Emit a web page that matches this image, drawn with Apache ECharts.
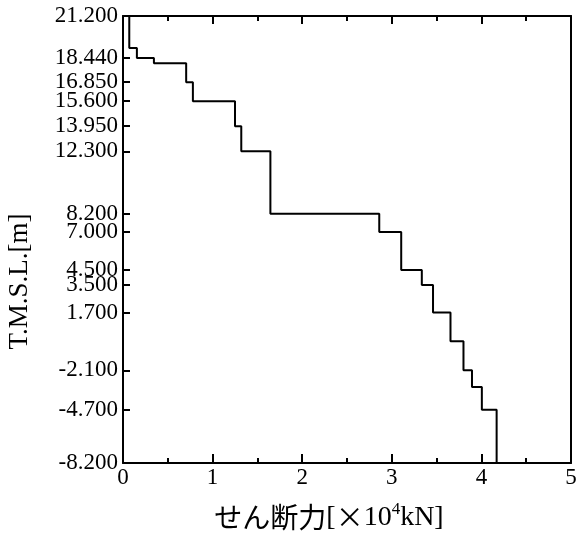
<!DOCTYPE html>
<html>
<head>
<meta charset="utf-8">
<style>
  html, body { margin: 0; padding: 0; background: #fff; }
  #chart { width: 576px; height: 536px; }
</style>
<script src="https://cdn.jsdelivr.net/npm/echarts@6/dist/echarts.min.js"></script>
</head>
<body>
<div id="chart"></div>
<script>
// Elevation boundaries of each section, top to bottom [m]
var levels = [21.2, 19.1, 18.44, 18.1, 16.85, 15.6, 13.95, 12.3, 8.2, 7.0, 4.5, 3.5, 1.7, -0.2, -2.1, -3.2, -4.7, -8.2];
// Shear force acting over each section [x10^4 kN]
var shear = [0.07, 0.155, 0.345, 0.705, 0.78, 1.25, 1.32, 1.645, 2.86, 3.105, 3.335, 3.46, 3.655, 3.80, 3.895, 4.005, 4.17];
// Labelled elevations on the vertical axis
var elevTicks = [21.2, 18.44, 16.85, 15.6, 13.95, 12.3, 8.2, 7.0, 4.5, 3.5, 1.7, -2.1, -4.7, -8.2];

// Step outline: each section is a vertical run at its shear value
var pts = [];
for (var i = 0; i < shear.length; i++) {
  pts.push([shear[i], levels[i]]);
  pts.push([shear[i], levels[i + 1]]);
}

var serif = '"Liberation Serif", "Times New Roman", serif';
var cjk = '"Noto Sans CJK JP", "Liberation Serif", serif';
var lineStyle = { color: '#000', width: 2 };

var chart = echarts.init(document.getElementById('chart'), null, { renderer: 'canvas' });
chart.setOption({
  animation: false,
  backgroundColor: '#fff',
  grid: { left: 123, right: 5, top: 16, bottom: 73, containLabel: false, outerBoundsMode: 'none' },
  xAxis: [{
    type: 'value', min: 0, max: 5, interval: 1, position: 'bottom',
    axisLine: { show: true, onZero: false, lineStyle: lineStyle },
    axisTick: { show: true, inside: true, length: 9, lineStyle: lineStyle },
    minorTick: { show: true, splitNumber: 2, length: 5, lineStyle: { color: '#000', width: 2 } },
    splitLine: { show: false },
    minorSplitLine: { show: false },
    axisLabel: { color: '#000', fontFamily: serif, fontSize: 23, margin: 3 },
    name: '{j|せん断力}{a|[}{x|×}{a|10}{s|4}{a|kN]}',
    nameLocation: 'middle', nameGap: 38,
    nameTextStyle: {
      padding: [0, 36, 0, 0],
      rich: {
        j: { fontFamily: cjk, fontSize: 28, color: '#000' },
        x: { fontFamily: cjk, fontSize: 28, color: '#000' },
        a: { fontFamily: serif, fontSize: 28, color: '#000' },
        s: { fontFamily: serif, fontSize: 17, color: '#000', verticalAlign: 'top', padding: [0, 0, 16, 0] }
      }
    }
  }, {
    type: 'value', min: 0, max: 5, interval: 1, position: 'top',
    axisLine: { show: true, onZero: false, lineStyle: lineStyle },
    axisTick: { show: true, inside: true, length: 8, lineStyle: lineStyle },
    minorTick: { show: true, splitNumber: 2, length: 5, lineStyle: { color: '#000', width: 2 } },
    splitLine: { show: false },
    axisLabel: { show: false }
  }],
  yAxis: [{
    type: 'value', min: -8.2, max: 21.2, position: 'left',
    axisLine: { show: true, onZero: false, lineStyle: lineStyle },
    axisTick: { show: true, inside: true, length: 7, customValues: elevTicks, lineStyle: lineStyle },
    splitLine: { show: false },
    axisLabel: {
      color: '#000', fontFamily: serif, fontSize: 23, margin: 5,
      customValues: elevTicks,
      formatter: function (v) { return v.toFixed(3); }
    },
    name: 'T.M.S.L.[m]',
    nameLocation: 'middle', nameRotate: 90, nameGap: 90,
    nameTextStyle: { color: '#000', fontFamily: serif, fontSize: 27, padding: [0, 84, 0, 0] }
  }, {
    type: 'value', min: -8.2, max: 21.2, position: 'right',
    axisLine: { show: true, onZero: false, lineStyle: lineStyle },
    axisTick: { show: false },
    splitLine: { show: false },
    axisLabel: { show: false }
  }],
  series: [{
    type: 'line',
    data: pts,
    xAxisIndex: 0, yAxisIndex: 0,
    showSymbol: false,
    lineStyle: { color: '#000', width: 2 },
    clip: false
  }]
});
</script>
</body>
</html>
